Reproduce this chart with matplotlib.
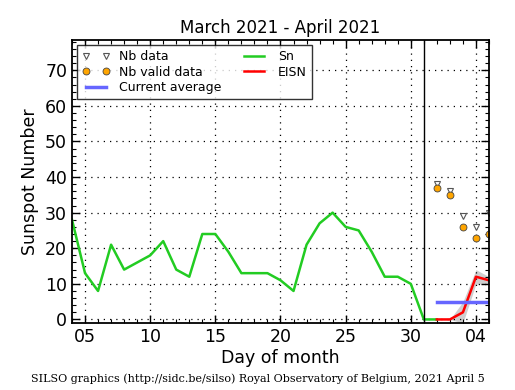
import matplotlib
matplotlib.use("Agg")
import matplotlib.pyplot as plt
from matplotlib.ticker import MultipleLocator, FixedLocator

# Data
sn_days = list(range(4, 33))
sn_vals = [28, 13, 8, 21, 14, 16, 18, 22, 14, 12, 24, 24, 19, 13, 13, 13, 11, 8,
           21, 27, 30, 26, 25, 19, 12, 12, 10, 0, 0]
eisn_days = [32, 33, 34, 35, 36]
eisn_vals = [0, 0, 2, 12, 11]
eisn_low = [0, 0, -1, 10, 10]
eisn_high = [0, 0, 5, 14, 12]
nb_data = [38, 36, 29, 26, 30]
nb_valid = [37, 35, 26, 23, 24]
avg_days = [32, 36]
avg_vals = [5, 5]
xtick_pos = [5, 10, 15, 20, 25, 30, 35]
xtick_labels = ["05", "10", "15", "20", "25", "30", "04"]

fig = plt.figure(figsize=(5.15, 3.9), dpi=100)
ax = fig.add_axes([0.1398, 0.1718, 0.8097, 0.7256])

ax.fill_between(eisn_days, eisn_low, eisn_high, color="#bbbbbb", alpha=0.7, lw=0)
ax.plot(sn_days, sn_vals, color="#22cc22", lw=1.8, label="Sn")
ax.plot(eisn_days, eisn_vals, color="red", lw=1.8, label="EISN")
ax.plot(avg_days, avg_vals, color="#6666ff", lw=2.5, label="Current average")
ax.plot(eisn_days, nb_data, ls="none", marker="v", ms=4.5, mfc="white",
        mec="#555555", mew=0.8, label="Nb data")
ax.plot(eisn_days, nb_valid, ls="none", marker="o", ms=5, mfc="orange",
        mec="#444444", mew=0.6, label="Nb valid data")
ax.axvline(31, color="black", lw=1)

ax.set_xlim(4, 36)
ax.set_ylim(-1, 78.5)
ax.xaxis.set_major_locator(FixedLocator(xtick_pos))
ax.set_xticklabels(xtick_labels)
ax.xaxis.set_minor_locator(MultipleLocator(1))
ax.yaxis.set_major_locator(MultipleLocator(10))
ax.yaxis.set_minor_locator(MultipleLocator(2))
ax.tick_params(which="both", direction="in", top=True, right=True, labelsize=12.5)
ax.tick_params(which="major", length=6, width=1)
ax.tick_params(which="minor", length=3, width=0.8)
ax.grid(True, which="major", color="black", ls=(0, (1, 4)), lw=0.9)
for s in ax.spines.values():
    s.set_linewidth(1.3)

ax.set_title("March 2021 - April 2021", fontsize=12, pad=5)
ax.set_xlabel("Day of month", fontsize=12.5, labelpad=2)
ax.set_ylabel("Sunspot Number", fontsize=12.5)

handles, labels = ax.get_legend_handles_labels()
order = [3, 4, 2, 0, 1]
leg = ax.legend([handles[i] for i in order], [labels[i] for i in order],
                loc="upper left", ncol=2, numpoints=2, fontsize=9,
                frameon=True, fancybox=False, borderaxespad=0.4,
                handlelength=2.2, columnspacing=1.5, labelspacing=0.2,
                borderpad=0.4)
leg.get_frame().set_edgecolor("black")
leg.get_frame().set_linewidth(1.0)

fig.text(0.5, 0.015, "SILSO graphics (http://sidc.be/silso) Royal Observatory of Belgium, 2021 April 5",
         ha="center", va="bottom", fontsize=8, family="DejaVu Serif")

fig.savefig("out.png", dpi=100)
